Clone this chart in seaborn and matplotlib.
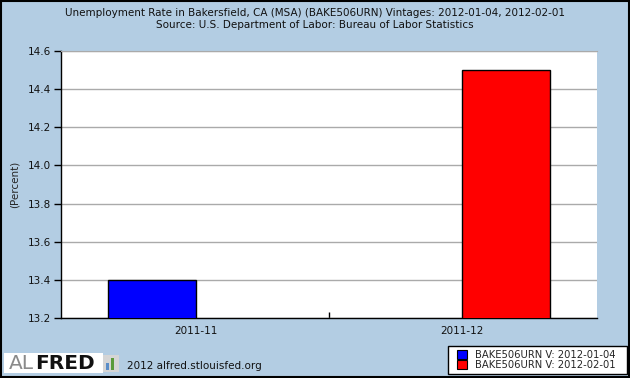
import matplotlib
matplotlib.use("Agg")
import matplotlib.pyplot as plt
import seaborn as sns
import pandas as pd
import numpy as np
from matplotlib.patches import Rectangle, Patch

categories = ["2011-11", "2011-12"]
vintages = ["BAKE506URN V: 2012-01-04", "BAKE506URN V: 2012-02-01"]
values_v1 = [13.4, np.nan]
values_v2 = [np.nan, 14.5]
colors = ["#0000FF", "#FF0000"]
yticks = [13.2, 13.4, 13.6, 13.8, 14.0, 14.2, 14.4, 14.6]

rows = []
for c, a, b in zip(categories, values_v1, values_v2):
    rows.append({"date": c, "vintage": vintages[0], "value": a})
    rows.append({"date": c, "vintage": vintages[1], "value": b})
df = pd.DataFrame(rows)

sns.set_style("white")
plt.rcParams["font.family"] = ["DejaVu Sans"]
bg = "#B3CDE3"
fig = plt.figure(figsize=(6.3, 3.78), dpi=100, facecolor=bg)
ax = fig.add_axes([61/630, 1-318/378, (597-61)/630, (318-51)/378])
ax.set_facecolor("white")

sns.barplot(data=df, x="date", y="value", hue="vintage", order=categories,
            hue_order=vintages, palette=colors, saturation=1, width=0.66, dodge=True,
            edgecolor="black", linewidth=1, ax=ax, legend=False, zorder=3)

ax.set_ylim(13.2, 14.6)
ax.set_xlim(-0.508, 1.508)
ax.set_yticks(yticks)
ax.set_yticklabels([f"{t:.1f}" for t in yticks], fontsize=7.5, color="#111111")
ax.yaxis.grid(True, color="#AAAAAA", linewidth=1, zorder=0)
ax.set_axisbelow(True)
ax.tick_params(axis="y", direction="out", length=5, width=1, color="black", pad=2, left=True)
ax.tick_params(axis="x", length=0, labelsize=7.5, pad=6, labelcolor="#111111")
ax.set_xticks([0.5], minor=True)
ax.tick_params(axis="x", which="minor", direction="in", length=4, width=1, color="black", bottom=True)
ax.set_xlabel("")
ax.set_ylabel("(Percent)", fontsize=7.5, labelpad=6)
for s in ["left", "bottom"]:
    ax.spines[s].set_color("black")
    ax.spines[s].set_linewidth(1)
ax.spines["top"].set_color("#AAAAAA")
ax.spines["right"].set_visible(False)

fig.text(0.5, 1-12.5/378, "Unemployment Rate in Bakersfield, CA (MSA) (BAKE506URN) Vintages: 2012-01-04, 2012-02-01",
         ha="center", va="center", fontsize=7.5, color="#111111")
fig.text(0.5, 1-24.5/378, "Source: U.S. Department of Labor: Bureau of Labor Statistics",
         ha="center", va="center", fontsize=7.5, color="#111111")

# Figure border
fig.patches.append(Rectangle((0.001, 0.002), 0.997, 0.996, transform=fig.transFigure,
                             fill=False, edgecolor="black", linewidth=1.5))

# ALFRED logo
fig.patches.append(Rectangle((4/630, 1-373/378), 99/630, 20/378, transform=fig.transFigure,
                             facecolor="white", edgecolor="none"))
fig.text(9/630, 1-363.5/378, "AL", ha="left", va="center", fontsize=14.5, color="#8A8A8A")
fig.text(35/630, 1-363.5/378, "FRED", ha="left", va="center", fontsize=14.5, color="#111111",
         fontweight="heavy")
fig.patches.append(Rectangle((103/630, 1-372/378), 16/630, 17/378, transform=fig.transFigure,
                             facecolor="#D5D5D5", edgecolor="none"))
fig.patches.append(Rectangle((106/630, 1-370/378), 3/630, 7/378, transform=fig.transFigure,
                             facecolor="#5A8DC8", edgecolor="none"))
fig.patches.append(Rectangle((111/630, 1-370/378), 3/630, 12/378, transform=fig.transFigure,
                             facecolor="#5A9A3A", edgecolor="none"))
fig.text(127/630, 1-366/378, "2012 alfred.stlouisfed.org", ha="left", va="center",
         fontsize=7.5, color="#111111")

# Legend with custom frame
fig.patches.append(Rectangle((448/630, 1-374/378), 179/630, 28/378, transform=fig.transFigure,
                             facecolor="white", edgecolor="black", linewidth=1, zorder=4))
handles = [Patch(facecolor=c, edgecolor="black", linewidth=0.8) for c in colors]
leg = fig.legend(handles, vintages, loc="center left", bbox_to_anchor=(457/630, 1-360/378),
                 fontsize=7.2, frameon=False,
                 handlelength=1.0, handleheight=1.0, handletextpad=0.8,
                 borderpad=0, labelspacing=0.0, borderaxespad=0)
leg.set_zorder(5)

fig.savefig("out.png", dpi=100, facecolor=bg)
